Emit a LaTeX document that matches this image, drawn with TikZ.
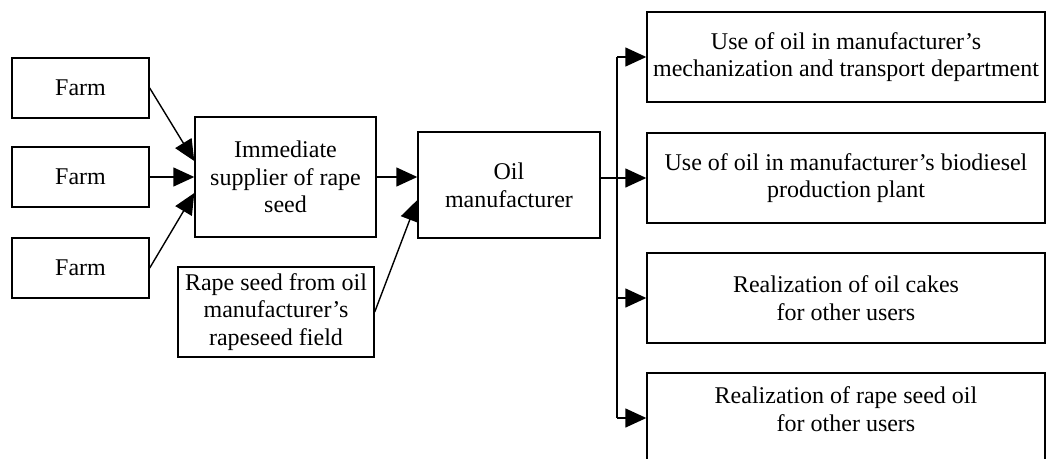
\documentclass[tikz,border=0pt]{standalone}
\usepackage{fontspec}
\setmainfont{Liberation Serif}
\usetikzlibrary{arrows.meta}
\begin{document}
\begin{tikzpicture}[x=1pt,y=-1pt,
  box/.style={draw, line width=1.4pt, align=center, inner sep=0pt,
    font=\fontsize{24}{27.6}\selectfont},
  txt/.style={align=center, inner sep=0pt, font=\fontsize{24}{27.6}\selectfont},
  arr/.style={line width=1.4pt, -{Triangle[length=21pt,width=19pt]}},
  ln/.style={line width=1.4pt}]
\useasboundingbox (0,0) rectangle (1047,458);
\clip (0,0) rectangle (1047,458);
\node[box, minimum width=137, minimum height=60] (f1) at (80.5,88) {Farm};
\node[box, minimum width=137, minimum height=60] (f2) at (80.5,177) {Farm};
\node[box, minimum width=137, minimum height=60] (f3) at (80.5,268) {Farm};
\node[box, minimum width=181, minimum height=120] (sup) at (285.5,177) {Immediate\\supplier of rape\\seed};
\node[box, minimum width=196, minimum height=90] (fld) at (276,312) {Rape seed from oil\\manufacturer’s\\rapeseed field};
\node[box, minimum width=182, minimum height=106] (oil) at (509,185) {Oil\\manufacturer};
\node[box, minimum width=398, minimum height=90] (r1) at (846,57) {Use of oil in manufacturer’s\\mechanization and transport department};
\node[box, minimum width=398, minimum height=90] (r2) at (846,178) {Use of oil in manufacturer’s biodiesel\\production plant};
\node[box, minimum width=398, minimum height=90] (r3) at (846,298) {Realization of oil cakes\\for other users};
\node[box, minimum width=398, minimum height=90] (r4) at (846,418) {};
\node[txt] (r4t) at ([yshift=9pt]r4.center) {Realization of rape seed oil\\for other users};
\coordinate (tr) at (617,178);
\draw[arr] (f1.east) -- ([yshift=16pt]sup.west);
\draw[arr] (f2.east) -- (sup.west);
\draw[arr] (f3.east) -- ([yshift=-16pt]sup.west);
\draw[arr] (sup.east) -- (sup.east -| oil.west);
\draw[arr] (fld.east) -- ([yshift=-15pt]oil.west);
\draw[ln] (oil.east |- tr) -- (tr);
\draw[ln] (tr |- r1.west) -- (tr |- r4.west);
\draw[arr] (tr |- r1.west) -- (r1.west);
\draw[arr] (tr |- r2.west) -- (r2.west);
\draw[arr] (tr |- r3.west) -- (r3.west);
\draw[arr] (tr |- r4.west) -- (r4.west);
\end{tikzpicture}
\end{document}
